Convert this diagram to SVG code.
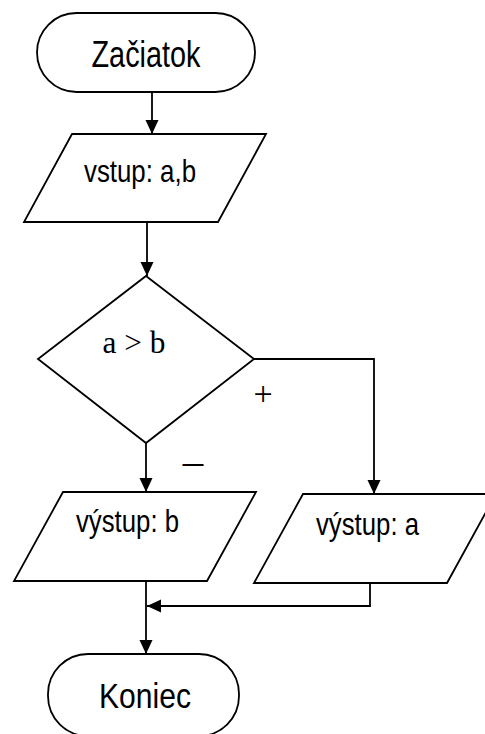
<svg xmlns="http://www.w3.org/2000/svg" width="485" height="734" viewBox="0 0 485 734">
<style>
.s{fill:#fff;stroke:#000;stroke-width:1.8}
.c{fill:none;stroke:#000;stroke-width:1.8}
.t{font-family:"Liberation Sans",Arial,sans-serif;fill:#000}
.r{font-family:"Liberation Serif","Times New Roman",serif;fill:#000}
</style>
<defs>
<marker id="ah" markerUnits="userSpaceOnUse" markerWidth="16" markerHeight="14" refX="14" refY="6.5" orient="auto">
<path d="M0,0 L14,6.5 L0,13 Z" fill="#000"/>
</marker>
</defs>
<g id="start">
<rect class="s" x="37" y="13" width="218" height="79" rx="39.5"/>
<text class="t" x="146" y="67" font-size="36" text-anchor="middle" textLength="109" lengthAdjust="spacingAndGlyphs">Začiatok</text>
</g>
<g id="input">
<polygon class="s" points="72,134 266,134 218,222 24,222"/>
<text class="t" x="140" y="182" font-size="32" text-anchor="middle" textLength="112" lengthAdjust="spacingAndGlyphs">vstup: a,b</text>
</g>
<g id="decision">
<polygon class="s" points="146,276 254,359 146,443 38,359"/>
<text class="r" x="134" y="353" font-size="31" text-anchor="middle" textLength="63" lengthAdjust="spacingAndGlyphs">a &gt; b</text>
</g>
<g id="outb">
<polygon class="s" points="63,492 256,492 207,581 14,581"/>
<text class="t" x="127.5" y="532" font-size="32" text-anchor="middle" textLength="103" lengthAdjust="spacingAndGlyphs">výstup: b</text>
</g>
<g id="outa">
<polygon class="s" points="303,494 496,494 447,583 254,583"/>
<text class="t" x="367.5" y="535" font-size="32" text-anchor="middle" textLength="103" lengthAdjust="spacingAndGlyphs">výstup: a</text>
</g>
<g id="end">
<rect class="s" x="48" y="654" width="191" height="82" rx="40"/>
<text class="t" x="145" y="708" font-size="35" text-anchor="middle" textLength="92" lengthAdjust="spacingAndGlyphs">Koniec</text>
</g>
<g id="connectors">
<line class="c" x1="152" y1="92" x2="152" y2="134" marker-end="url(#ah)"/>
<line class="c" x1="147" y1="222" x2="147" y2="276" marker-end="url(#ah)"/>
<line class="c" x1="146" y1="443" x2="146" y2="492" marker-end="url(#ah)"/>
<polyline class="c" points="254,359 374,359 374,494" marker-end="url(#ah)"/>
<line class="c" x1="146" y1="581" x2="146" y2="654" marker-end="url(#ah)"/>
<polyline class="c" points="370,583 370,606 147,606" marker-end="url(#ah)"/>
<text class="r" x="263" y="405" font-size="34" text-anchor="middle">+</text>
<text class="t" x="193" y="473" font-size="30" text-anchor="middle" textLength="21" lengthAdjust="spacingAndGlyphs">–</text>
</g>
</svg>
